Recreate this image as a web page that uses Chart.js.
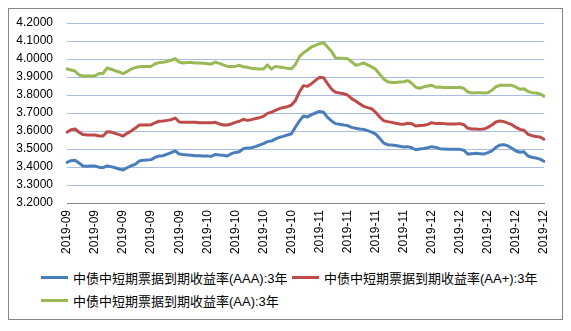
<!DOCTYPE html>
<html>
<head>
<meta charset="utf-8">
<script src="https://cdn.jsdelivr.net/npm/chart.js@4/dist/chart.umd.min.js"></script>
<style>
    body { margin: 0; background: #fff; }
    #wrap { position: relative; width: 571px; height: 331px; }
    #frame {
        position: absolute; left: 8px; top: 8px; width: 553px; height: 310px;
        border: 1px solid #868686;
    }
    #yieldChart { position: absolute; left: 0; top: 0; }
    #legend {
        position: absolute; left: 41px; top: 266px; width: 520px;
        font-family: "Liberation Sans", "Noto Sans CJK SC", sans-serif;
        font-size: 13px; color: #000;
    }
    .item { position: absolute; display: flex; align-items: center; height: 22px; white-space: nowrap; }
    .swatch { width: 27px; height: 3px; margin-right: 5px; }
</style>
</head>
<body>
<div id="wrap">
    <div id="frame"></div>
    <canvas id="yieldChart" width="571" height="262"></canvas>
    <div id="legend"></div>
</div>
<script>
// daily points, 2019-09-01 .. 2019-12-29; one axis label per week
const tickLabels = [
    "2019-09", "2019-09", "2019-09", "2019-09", "2019-09",
    "2019-10", "2019-10", "2019-10", "2019-10",
    "2019-11", "2019-11", "2019-11", "2019-11",
    "2019-12", "2019-12", "2019-12", "2019-12", "2019-12"
];

const seriesNames = [
    "中债中短期票据到期收益率(AAA):3年",
    "中债中短期票据到期收益率(AA+):3年",
    "中债中短期票据到期收益率(AA):3年"
];

const aaaYield = [
    3.426, 3.435, 3.437, 3.422, 3.406, 3.404, 3.406, 3.406, 3.398, 3.396,
    3.406, 3.402, 3.396, 3.389, 3.383, 3.396, 3.407, 3.415, 3.433, 3.437,
    3.439, 3.441, 3.454, 3.461, 3.463, 3.472, 3.480, 3.489, 3.472, 3.469,
    3.467, 3.465, 3.463, 3.463, 3.461, 3.461, 3.459, 3.470, 3.467, 3.465,
    3.461, 3.474, 3.481, 3.485, 3.502, 3.506, 3.507, 3.513, 3.522, 3.530,
    3.541, 3.544, 3.556, 3.565, 3.570, 3.578, 3.585, 3.622, 3.656, 3.683,
    3.678, 3.691, 3.700, 3.709, 3.704, 3.676, 3.656, 3.641, 3.637, 3.633,
    3.630, 3.620, 3.615, 3.611, 3.609, 3.602, 3.594, 3.583, 3.559, 3.533,
    3.524, 3.522, 3.519, 3.515, 3.511, 3.513, 3.507, 3.496, 3.500, 3.503,
    3.507, 3.513, 3.509, 3.502, 3.500, 3.498, 3.498, 3.498, 3.498, 3.493,
    3.472, 3.474, 3.476, 3.474, 3.472, 3.480, 3.489, 3.509, 3.522, 3.524,
    3.517, 3.504, 3.489, 3.482, 3.485, 3.461, 3.454, 3.450, 3.444, 3.432
];

const aaPlusYield = [
    3.593, 3.607, 3.611, 3.593, 3.580, 3.578, 3.578, 3.578, 3.572, 3.572,
    3.596, 3.594, 3.587, 3.580, 3.572, 3.587, 3.600, 3.615, 3.633, 3.633,
    3.633, 3.635, 3.646, 3.654, 3.656, 3.659, 3.663, 3.672, 3.650, 3.648,
    3.648, 3.648, 3.648, 3.646, 3.646, 3.646, 3.646, 3.648, 3.639, 3.633,
    3.633, 3.639, 3.648, 3.654, 3.665, 3.659, 3.663, 3.669, 3.674, 3.681,
    3.698, 3.704, 3.715, 3.724, 3.731, 3.735, 3.744, 3.770, 3.818, 3.852,
    3.848, 3.863, 3.881, 3.898, 3.896, 3.863, 3.833, 3.815, 3.811, 3.807,
    3.800, 3.780, 3.767, 3.752, 3.737, 3.730, 3.724, 3.704, 3.678, 3.657,
    3.652, 3.648, 3.643, 3.639, 3.637, 3.643, 3.641, 3.628, 3.630, 3.632,
    3.637, 3.646, 3.641, 3.643, 3.641, 3.639, 3.639, 3.639, 3.641, 3.635,
    3.615, 3.611, 3.611, 3.609, 3.611, 3.620, 3.633, 3.650, 3.656, 3.652,
    3.644, 3.635, 3.620, 3.609, 3.604, 3.582, 3.574, 3.570, 3.567, 3.554
];

const aaYield = [
    3.944, 3.939, 3.933, 3.911, 3.906, 3.906, 3.906, 3.907, 3.919, 3.920,
    3.950, 3.943, 3.935, 3.928, 3.919, 3.930, 3.944, 3.952, 3.957, 3.959,
    3.959, 3.959, 3.974, 3.980, 3.982, 3.987, 3.993, 4.002, 3.983, 3.978,
    3.980, 3.980, 3.978, 3.978, 3.976, 3.974, 3.972, 3.983, 3.976, 3.967,
    3.959, 3.959, 3.959, 3.965, 3.957, 3.954, 3.948, 3.946, 3.944, 3.944,
    3.967, 3.944, 3.959, 3.956, 3.952, 3.948, 3.946, 3.970, 4.013, 4.035,
    4.050, 4.067, 4.076, 4.085, 4.091, 4.067, 4.041, 4.006, 4.004, 4.004,
    4.002, 3.985, 3.965, 3.970, 3.978, 3.967, 3.956, 3.943, 3.915, 3.889,
    3.874, 3.870, 3.870, 3.872, 3.874, 3.880, 3.865, 3.843, 3.837, 3.845,
    3.850, 3.854, 3.843, 3.844, 3.841, 3.841, 3.841, 3.841, 3.843, 3.837,
    3.817, 3.811, 3.813, 3.813, 3.811, 3.813, 3.826, 3.846, 3.854, 3.854,
    3.854, 3.854, 3.844, 3.832, 3.835, 3.820, 3.813, 3.811, 3.806, 3.794
];

const colors = ["#4a7ebb", "#be4b48", "#98b954"];
const labelEvery = 7;

// category labels: month text on every 7th day, blank otherwise
const labels = aaaYield.map((_, i) => (i % labelEvery === 0 ? tickLabels[i / labelEvery] : ""));

const font = { family: "'Liberation Sans', Arial, sans-serif", size: 12 };

const datasets = [aaaYield, aaPlusYield, aaYield].map((data, i) => ({
    label: seriesNames[i],
    data: data,
    borderColor: colors[i],
    borderWidth: 3,
    pointRadius: 0,
    tension: 0,
    borderJoinStyle: "round",
    borderCapStyle: "round"
}));

const chart = new Chart(document.getElementById("yieldChart"), {
    type: "line",
    data: { labels, datasets },
    options: {
        responsive: false,
        animation: false,
        layout: { padding: { left: 0, right: 27, top: 23, bottom: 0 } },
        plugins: {
            legend: { display: false },
            tooltip: { enabled: false }
        },
        scales: {
            x: {
                offset: false,
                grid: { display: false, drawTicks: false },
                border: { display: true, color: "#868686", width: 1 },
                ticks: {
                    autoSkip: false,
                    minRotation: 90,
                    maxRotation: 90,
                    padding: 7,
                    color: "#000",
                    font
                },
                afterFit: (scale) => { scale.height = 59; }
            },
            y: {
                min: 3.2,
                max: 4.2,
                grid: { color: "#a7bee2", lineWidth: 1, drawTicks: false },
                border: { display: false },
                ticks: {
                    stepSize: 0.1,
                    padding: 14,
                    color: "#000",
                    font,
                    callback: (v) => Number(v).toFixed(4)
                },
                afterFit: (scale) => { scale.width = 67; }
            }
        }
    }
});

// legend rows below the plot
const legendEl = document.getElementById("legend");
const legendPos = [[0, 0], [251, 0], [0, 23]];
chart.data.datasets.forEach((ds, i) => {
    const item = document.createElement("div");
    item.className = "item";
    item.style.left = legendPos[i][0] + "px";
    item.style.top = legendPos[i][1] + "px";
    const swatch = document.createElement("span");
    swatch.className = "swatch";
    swatch.style.background = ds.borderColor;
    const text = document.createElement("span");
    text.textContent = ds.label;
    item.appendChild(swatch);
    item.appendChild(text);
    legendEl.appendChild(item);
});
</script>
</body>
</html>
